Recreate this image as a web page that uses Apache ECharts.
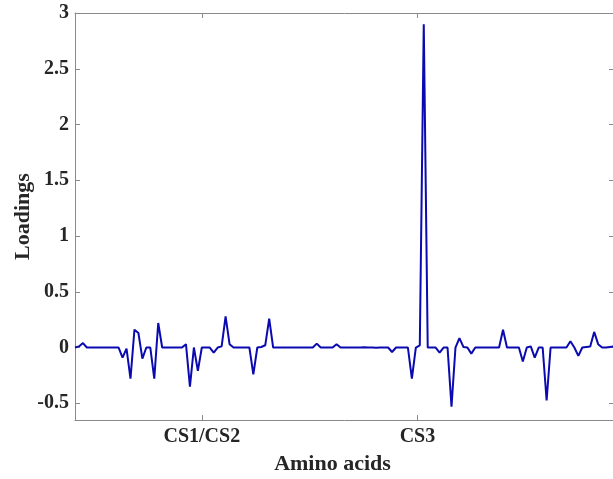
<!DOCTYPE html>
<html>
<head>
<meta charset="utf-8">
<script src="https://cdn.jsdelivr.net/npm/echarts@6/dist/echarts.min.js"></script>
<style>
html,body{margin:0;padding:0;background:#fff;overflow:hidden;}
#chart{width:613px;height:479px;}
</style>
</head>
<body>
<div id="chart"></div>
<script>
// Loadings per amino-acid position (index 0..136)
const loadings = [
  0, 0.01, 0.04, 0, 0, 0, 0, 0, 0, 0,
  0, 0, -0.09, -0.01, -0.28, 0.16, 0.13, -0.10, 0, 0,
  -0.28, 0.22, 0, 0, 0, 0, 0, 0, 0.03, -0.35,
  0, -0.21, 0, 0, 0, -0.045, 0, 0.01, 0.28, 0.03,
  0, 0, 0, 0, 0, -0.24, 0, 0.005, 0.02, 0.26,
  0, 0, 0, 0, 0, 0, 0, 0, 0, 0,
  0, 0.035, 0, 0, 0, 0, 0.03, 0, 0, 0,
  0, 0, 0, 0.003, 0, 0, -0.003, 0, 0, 0,
  -0.04, 0, 0, 0, 0, -0.28, 0, 0.02, 2.9, 0,
  0, 0, -0.045, 0, 0, -0.53, 0, 0.085, 0.005, 0,
  -0.055, 0, 0, 0, 0, 0, 0, 0, 0.16, 0,
  0, 0, 0, -0.125, 0, 0.01, -0.09, 0, 0, -0.475,
  0, 0, 0, 0, 0, 0.057, 0, -0.075, 0, 0.005,
  0.01, 0.14, 0.03, 0, 0, 0.005, 0.01
];
const xTickPositions = [32, 86.4];
const xTickLabels = ['CS1/CS2', 'CS3'];
const yTicks = [-0.5, 0, 0.5, 1, 1.5, 2, 2.5, 3];
const xTitle = 'Amino acids';
const yTitle = 'Loadings';

const seriesData = loadings.map((v, i) => [i, v]);
const axisColor = '#8a8a8a';
const textColor = '#262626';
const font = 'Liberation Serif';

function xLabel(v) {
  let best = 0, bd = Infinity;
  xTickPositions.forEach((p, k) => { const d = Math.abs(p - v); if (d < bd) { bd = d; best = k; } });
  return xTickLabels[best];
}

const chart = echarts.init(document.getElementById('chart'), null, {renderer: 'canvas'});
chart.setOption({
  animation: false,
  backgroundColor: '#fff',
  grid: {left: 75, top: 13, width: 539, height: 407, containLabel: false, outerBoundsMode: 'none'},
  xAxis: [{
    type: 'value', min: 0, max: loadings.length - 1, position: 'bottom',
    name: xTitle, nameLocation: 'middle', nameGap: 33, nameMoveOverlap: false,
    nameTextStyle: {fontFamily: font, fontWeight: 'bold', fontSize: 22, color: textColor, padding: [0, 24, 0, 0]},
    axisLine: {show: true, onZero: false, lineStyle: {color: axisColor, width: 1}},
    axisTick: {show: true, inside: true, length: 5, customValues: xTickPositions, lineStyle: {color: axisColor}},
    axisLabel: {show: true, customValues: xTickPositions, formatter: xLabel, margin: 7,
      fontFamily: font, fontWeight: 'bold', fontSize: 20, color: textColor},
    splitLine: {show: false}
  }, {
    type: 'value', min: 0, max: loadings.length - 1, position: 'top',
    axisLine: {show: true, onZero: false, lineStyle: {color: axisColor, width: 1}},
    axisTick: {show: true, inside: true, length: 5, customValues: xTickPositions, lineStyle: {color: axisColor}},
    axisLabel: {show: false},
    splitLine: {show: false}
  }],
  yAxis: [{
    type: 'value', min: -0.65, max: 3, position: 'left',
    name: yTitle, nameLocation: 'middle', nameGap: 41, nameMoveOverlap: false,
    nameTextStyle: {fontFamily: font, fontWeight: 'bold', fontSize: 22, color: textColor},
    axisLine: {show: true, onZero: false, lineStyle: {color: axisColor, width: 1}},
    axisTick: {show: true, inside: true, length: 5, customValues: yTicks, lineStyle: {color: axisColor}},
    axisLabel: {show: true, customValues: yTicks, margin: 6,
      fontFamily: font, fontWeight: 'bold', fontSize: 20, color: textColor},
    splitLine: {show: false}
  }, {
    type: 'value', min: -0.65, max: 3, position: 'right',
    axisLine: {show: true, onZero: false, lineStyle: {color: axisColor, width: 1}},
    axisTick: {show: true, inside: true, length: 5, customValues: yTicks, lineStyle: {color: axisColor}},
    axisLabel: {show: false},
    splitLine: {show: false}
  }],
  series: [{
    type: 'line',
    data: seriesData,
    xAxisIndex: 0, yAxisIndex: 0,
    showSymbol: false, symbol: 'none',
    lineStyle: {color: '#0A0AB0', width: 2},
    itemStyle: {color: '#0A0AB0'}
  }]
});
</script>
</body>
</html>
